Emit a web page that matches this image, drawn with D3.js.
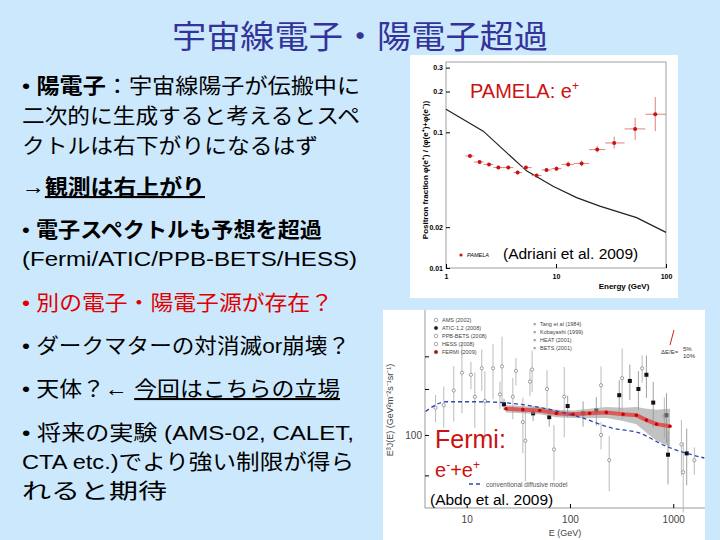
<!DOCTYPE html>
<html><head><meta charset="utf-8">
<script src="https://cdn.jsdelivr.net/npm/d3@7"></script>
<style>
body{margin:0;background:#cce8fc;}
svg{display:block;font-family:"Liberation Sans",Arial,"Noto Sans CJK JP",sans-serif;}
</style></head><body>
<script>
// PAMELA positron fraction: energy, value, lower, upper, bin lo, bin hi
var pamelaE = [1.65, 2.02, 2.46, 2.99, 3.68, 4.48, 5.33, 6.66, 8.2, 10.1, 12.9, 17.1, 23.7, 33.8, 52.4, 79.9];
var pamelaF = [0.067, 0.0605, 0.058, 0.055, 0.055, 0.0505, 0.055, 0.048, 0.0528, 0.054, 0.058, 0.059, 0.0746, 0.0835, 0.106, 0.136];
var pamelaLo = [0.065, 0.059, 0.0565, 0.0535, 0.0535, 0.049, 0.0535, 0.0465, 0.051, 0.052, 0.056, 0.056, 0.071, 0.076, 0.088, 0.102];
var pamelaHi = [0.069, 0.062, 0.0595, 0.0565, 0.0565, 0.052, 0.0565, 0.0495, 0.0545, 0.056, 0.061, 0.062, 0.079, 0.093, 0.128, 0.182];
var pamelaBinLo = [1.5, 1.8, 2.2, 2.7, 3.3, 4.1, 4.9, 6.0, 7.4, 9.1, 11.2, 14.5, 20, 28, 42, 65];
var pamelaBinHi = [1.8, 2.2, 2.7, 3.3, 4.1, 4.9, 6.0, 7.4, 9.1, 11.2, 14.5, 20, 28, 42, 65, 100];
var secE = [1, 2.18, 5.4, 9.4, 15.4, 25, 54, 100];
var secF = [0.148, 0.102, 0.052, 0.040, 0.033, 0.0286, 0.0235, 0.0183];
var pamelaTicks = [0.01, 0.02, 0.1, 0.2, 0.3];

// Fermi e+ + e- spectrum E^3 J(E)
var fermiE = [24, 35, 51, 74, 107, 155, 225, 327, 440, 550, 690, 930];
var fermiV = [126, 125, 124, 121, 120, 121, 122, 120, 119, 114, 110, 108];
var fermiBand = [4, 4, 4, 4, 4, 5, 6, 7, 9, 12, 15, 18];
var modelE = [4, 6.3, 13, 28, 59, 125, 260, 480, 800, 2000];
var modelV = [123, 134, 134, 132, 126, 117, 106, 101.5, 91.5, 81.6];
var atic = [[23, 131], [44, 121], [63, 117], [95, 129], [134, 121], [180, 124], [300, 142], [380, 161], [460, 150], [550, 170], [640, 133], [860, 119], [890, 84], [1350, 85]];
var others = [[5, 127], [6, 130], [7.5, 148], [9, 173], [11, 170], [14, 180], [18, 180], [22, 183], [30, 176], [43, 178],
  [12, 140], [15, 135], [21, 143], [28, 140], [35, 112], [37, 95], [41, 160], [60, 150], [70, 88], [88, 140],
  [200, 100], [200, 155], [240, 80], [320, 165], [500, 180], [820, 118], [1200, 92], [1250, 72], [1600, 80]];
var fermiTicks = [70, 100, 150, 200];

var svg = d3.select("body").append("svg").attr("width", 720).attr("height", 540);

svg.append("text").attr("x", 172).attr("y", 48).attr("textLength", 376).attr("lengthAdjust", "spacingAndGlyphs")
  .attr("font-size", 32).attr("fill", "#333399").text("宇宙線電子・陽電子超過");

var lines = [
  {y: 93, w: 338, parts: [["• ", 0], ["陽電子", 1], ["：宇宙線陽子が伝搬中に", 0]]},
  {y: 123, w: 338, parts: [["二次的に生成すると考えるとスペ", 0]]},
  {y: 153, w: 296, parts: [["クトルは右下がりになるはず", 0]]},
  {y: 194, w: 183, parts: [["→", 0], ["観測は右上がり", 3]]},
  {y: 237, w: 300, parts: [["• ", 0], ["電子スペクトルも予想を超過", 1]]},
  {y: 266, w: 335, parts: [["(Fermi/ATIC/PPB-BETS/HESS)", 0]]},
  {y: 310, w: 311, parts: [["• 別の電子・陽電子源が存在？", 0]], color: "#e00000"},
  {y: 353, w: 328, parts: [["• ダークマターの対消滅or崩壊？", 0]]},
  {y: 396, w: 318, parts: [["• 天体？← ", 0], ["今回はこちらの立場", 2]]},
  {y: 440, w: 332, parts: [["• 将来の実験 (AMS-02, CALET,", 0]]},
  {y: 469, w: 332, parts: [["CTA etc.)でより強い制限が得ら", 0]]},
  {y: 498, w: 145, parts: [["れると期待", 0]]}
];
lines.forEach(function(l) {
  var t = svg.append("text").attr("x", 22).attr("y", l.y).attr("font-size", 21)
    .attr("textLength", l.w).attr("lengthAdjust", "spacingAndGlyphs")
    .attr("fill", l.color || "#000");
  l.parts.forEach(function(p) {
    t.append("tspan").text(p[0])
      .attr("font-weight", p[1] & 1 ? "bold" : null)
      .attr("text-decoration", p[1] & 2 ? "underline" : null);
  });
});

// ---------- PAMELA panel ----------
svg.append("rect").attr("x", 410).attr("y", 55).attr("width", 268).attr("height", 243).attr("fill", "#fff");
var px = d3.scaleLog().domain([1, 100]).range([446, 666]);
var py = d3.scaleLog().domain([0.01, 0.33]).range([268, 62]);
var pg = svg.append("g");
pg.append("rect").attr("x", 446).attr("y", 62).attr("width", 220).attr("height", 206)
  .attr("fill", "none").attr("stroke", "#888").attr("stroke-width", 0.8);
pg.append("g").attr("transform", "translate(0,268)")
  .call(d3.axisBottom(px).tickValues([1, 10, 100]).tickFormat(d3.format("d")).tickSize(-4))
  .call(function(g) { g.select(".domain").remove(); g.selectAll("text").attr("font-size", 7).attr("font-weight", "bold").attr("dy", "1.1em"); });
pg.append("g").attr("transform", "translate(446,0)")
  .call(d3.axisLeft(py).tickValues(pamelaTicks).tickFormat(d3.format("")).tickSize(-4))
  .call(function(g) { g.select(".domain").remove(); g.selectAll("text").attr("font-size", 7).attr("font-weight", "bold"); });
pg.append("text").attr("x", 624).attr("y", 289).attr("font-size", 8).attr("font-weight", "bold")
  .attr("text-anchor", "middle").text("Energy (GeV)");
pg.append("text").attr("transform", "translate(428,170) rotate(-90)").attr("font-size", 8).attr("font-weight", "bold")
  .attr("text-anchor", "middle").text("Positron fraction    φ(e⁺) / (φ(e⁺)+φ(e⁻))");
pg.append("path").datum(secE.map(function(e, i) { return [e, secF[i]]; }))
  .attr("d", d3.line().x(function(d) { return px(d[0]); }).y(function(d) { return py(d[1]); }))
  .attr("fill", "none").attr("stroke", "#222").attr("stroke-width", 1.2);
pamelaE.forEach(function(e, i) {
  pg.append("line").attr("x1", px(pamelaBinLo[i])).attr("x2", px(pamelaBinHi[i]))
    .attr("y1", py(pamelaF[i])).attr("y2", py(pamelaF[i])).attr("stroke", "#e08080");
  pg.append("line").attr("x1", px(e)).attr("x2", px(e))
    .attr("y1", py(pamelaLo[i])).attr("y2", py(pamelaHi[i])).attr("stroke", "#e08080");
  pg.append("circle").attr("cx", px(e)).attr("cy", py(pamelaF[i])).attr("r", 2).attr("fill", "#cc1111");
});
pg.append("circle").attr("cx", 461).attr("cy", 255).attr("r", 1.6).attr("fill", "#cc1111");
pg.append("text").attr("x", 467).attr("y", 257).attr("font-size", 5.5).attr("font-style", "italic").text("PAMELA");
pg.append("text").attr("x", 470).attr("y", 98).attr("font-size", 20).attr("fill", "#cc1111")
  .html('PAMELA: e<tspan dy="-8" font-size="12">+</tspan>');
pg.append("text").attr("x", 503).attr("y", 259).attr("font-size", 15.5).text("(Adriani et al. 2009)");

// ---------- Fermi panel ----------
svg.append("rect").attr("x", 383).attr("y", 310).attr("width", 322).attr("height", 230).attr("fill", "#fff");
var fx = d3.scaleLog().domain([3.95, 2030]).range([425, 705]);
var fy = d3.scaleLog().domain([52.5, 301]).range([508, 310]);
var fg = svg.append("g");
fg.append("line").attr("x1", 425).attr("x2", 425).attr("y1", 310).attr("y2", 508).attr("stroke", "#999");
fg.append("line").attr("x1", 425).attr("x2", 705).attr("y1", 508).attr("y2", 508).attr("stroke", "#999");
fg.append("g").attr("transform", "translate(0,508)")
  .call(d3.axisBottom(fx).tickValues([10, 100, 1000]).tickFormat(d3.format("d")).tickSize(-4))
  .call(function(g) { g.select(".domain").remove(); g.selectAll("text").attr("font-size", 10).attr("fill", "#444").attr("dy", "1.2em"); });
fg.append("g").attr("transform", "translate(425,0)")
  .call(d3.axisLeft(fy).tickValues(fermiTicks).tickFormat(function(d) { return d == 100 ? "100" : ""; }).tickSize(-4))
  .call(function(g) { g.select(".domain").remove(); g.selectAll("text").attr("font-size", 10).attr("fill", "#444"); });
fg.append("text").attr("x", 565).attr("y", 536).attr("font-size", 9).attr("fill", "#444")
  .attr("text-anchor", "middle").text("E (GeV)");
fg.append("text").attr("transform", "translate(393,410) rotate(-90)").attr("font-size", 9).attr("fill", "#444")
  .attr("text-anchor", "middle").text("E³J(E) (GeV²m⁻²s⁻¹sr⁻¹)");
others.forEach(function(d, i) {
  var err = 0.12 + (i % 4) * 0.06;
  fg.append("line").attr("x1", fx(d[0])).attr("x2", fx(d[0]))
    .attr("y1", fy(d[1] * (1 - err))).attr("y2", fy(d[1] * (1 + err))).attr("stroke", "#aaa").attr("stroke-width", 0.8);
  fg.append("circle").attr("cx", fx(d[0])).attr("cy", fy(d[1])).attr("r", 1.6)
    .attr("fill", "#fff").attr("stroke", "#777").attr("stroke-width", 0.7);
});
atic.forEach(function(d, i) {
  var err = 0.05 + i * 0.015;
  fg.append("line").attr("x1", fx(d[0])).attr("x2", fx(d[0]))
    .attr("y1", fy(d[1] * (1 - err))).attr("y2", fy(d[1] * (1 + err))).attr("stroke", "#888").attr("stroke-width", 0.8);
  fg.append("rect").attr("x", fx(d[0]) - 2).attr("y", fy(d[1]) - 2).attr("width", 4).attr("height", 4).attr("fill", "#111");
});
var band = fermiE.map(function(e, i) { return [e, fermiV[i], fermiBand[i]]; });
fg.append("path").datum(band)
  .attr("d", d3.area().x(function(d) { return fx(d[0]); })
    .y0(function(d) { return fy(d[1] - d[2]); }).y1(function(d) { return fy(d[1] + d[2]); }))
  .attr("fill", "#999").attr("opacity", 0.6);
fg.append("path").datum(band)
  .attr("d", d3.line().x(function(d) { return fx(d[0]); }).y(function(d) { return fy(d[1]); }))
  .attr("fill", "none").attr("stroke", "#e04040").attr("stroke-width", 4).attr("opacity", 0.8);
fg.selectAll(".fp").data(band).enter().append("circle")
  .attr("cx", function(d) { return fx(d[0]); }).attr("cy", function(d) { return fy(d[1]); })
  .attr("r", 1.8).attr("fill", "#cc0000");
fg.append("path").datum(modelE.map(function(e, i) { return [e, modelV[i]]; }))
  .attr("d", d3.line().curve(d3.curveMonotoneX).x(function(d) { return fx(d[0]); }).y(function(d) { return fy(d[1]); }))
  .attr("fill", "none").attr("stroke", "#3344aa").attr("stroke-width", 1.3).attr("stroke-dasharray", "4,3");
var legL = ["AMS (2002)", "ATIC-1,2 (2008)", "PPB-BETS (2008)", "HESS (2008)", "FERMI (2009)"];
var legR = ["Tang et al (1984)", "Kobayashi (1999)", "HEAT (2001)", "BETS (2001)"];
legL.forEach(function(t, i) {
  fg.append("text").attr("x", 442).attr("y", 322 + i * 8).attr("font-size", 5.5).attr("fill", "#444").text(t);
  fg.append("circle").attr("cx", 436).attr("cy", 320 + i * 8).attr("r", 1.8)
    .attr("fill", i == 1 ? "#111" : i == 4 ? "#cc0000" : "#fff").attr("stroke", "#555").attr("stroke-width", 0.5);
});
legR.forEach(function(t, i) {
  fg.append("text").attr("x", 540).attr("y", 326 + i * 8).attr("font-size", 5.5).attr("fill", "#444").text(t);
  fg.append("text").attr("x", 533).attr("y", 326 + i * 8).attr("font-size", 5.5).attr("fill", "#555").text("×");
});
fg.append("text").attr("x", 661).attr("y", 354).attr("font-size", 6).attr("fill", "#333").text("ΔE/E=");
fg.append("text").attr("x", 683).attr("y", 351).attr("font-size", 6).attr("fill", "#333").text("5%");
fg.append("text").attr("x", 683).attr("y", 358).attr("font-size", 6).attr("fill", "#333").text("10%");
fg.append("line").attr("x1", 670).attr("x2", 674).attr("y1", 345).attr("y2", 330).attr("stroke", "#cc2222");
fg.append("line").attr("x1", 469).attr("x2", 481).attr("y1", 484).attr("y2", 484)
  .attr("stroke", "#3344aa").attr("stroke-width", 1.3).attr("stroke-dasharray", "4,3");
fg.append("text").attr("x", 486).attr("y", 487).attr("font-size", 6.5).attr("fill", "#555").text("conventional diffusive model");
fg.append("text").attr("x", 435).attr("y", 448).attr("font-size", 25).attr("fill", "#cc1111").text("Fermi:");
fg.append("text").attr("x", 435).attr("y", 477).attr("font-size", 20).attr("fill", "#cc1111")
  .html('e<tspan dy="-8" font-size="12">-</tspan><tspan dy="8">+e</tspan><tspan dy="-8" font-size="12">+</tspan>');
fg.append("text").attr("x", 430).attr("y", 505).attr("font-size", 15.5).text("(Abdo et al. 2009)");
</script>
</body></html>
